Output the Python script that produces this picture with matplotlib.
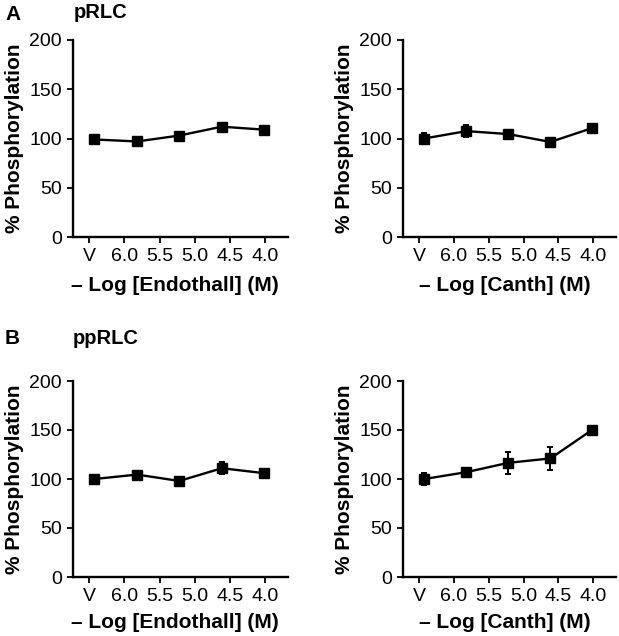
import matplotlib
matplotlib.use("Agg")
import matplotlib.pyplot as plt

plt.rcParams["font.family"] = ["Liberation Sans", "DejaVu Sans"]

# ------------------------------------------------------------------ data ----
TICK_LABELS = ["V", "6.0", "5.5", "5.0", "4.5", "4.0"]
# data points sit on their own evenly spaced positions (in tick units)
X_POS = [0.15, 1.36, 2.56, 3.77, 4.96]

prlc_endo = [99, 97, 103, 112, 109]
prlc_endo_err = [5, 4, 4, 4, 4]
prlc_canth = [100, 107.5, 104.5, 96.5, 110.5]
prlc_canth_err = [6, 6, 3, 3, 3]

pprlc_endo = [100, 104.5, 98, 111, 106]
pprlc_endo_err = [3, 3, 4, 6, 3]
pprlc_canth = [100, 107, 116.5, 121, 150]
pprlc_canth_err = [6, 3, 11, 12, 3]

XLABEL_ENDO = "\u2013 Log [Endothall] (M)"
XLABEL_CANTH = "\u2013 Log [Canth] (M)"

W, H = 619, 636


def px_axes(fig, x0, x1, ytop, ybot):
    return fig.add_axes([x0 / W, 1 - ybot / H, (x1 - x0) / W, (ybot - ytop) / H])


def draw_panel(ax, vals, errs, xlabel, label_xy):
    ax.errorbar(X_POS, vals, yerr=errs, color="black", marker="s",
                markersize=6.5, linewidth=1.7, elinewidth=1.4, capsize=2.5,
                capthick=1.4)
    ax.set_xlim(-0.46, 5.65)
    ax.set_ylim(0, 200)
    ax.set_yticks([0, 50, 100, 150, 200])
    ax.set_xticks(range(len(TICK_LABELS)))
    ax.set_xticklabels(TICK_LABELS)
    for s in ["top", "right"]:
        ax.spines[s].set_visible(False)
    for s in ["left", "bottom"]:
        ax.spines[s].set_linewidth(1.7)
    ax.tick_params(direction="out", length=4, width=1.3, labelsize=14, pad=4)
    ax.set_ylabel("% Phosphorylation", fontsize=15, fontweight="bold", labelpad=4)
    ax.set_xlabel(xlabel, fontsize=15, fontweight="bold", va="center")
    ax.xaxis.set_label_coords(*label_xy)


fig = plt.figure(figsize=(W / 100, H / 100), dpi=100)

ax1 = px_axes(fig, 73, 288, 40, 237)
draw_panel(ax1, prlc_endo, prlc_endo_err, XLABEL_ENDO, (0.474, -0.244))
ax2 = px_axes(fig, 403, 616, 40, 237)
draw_panel(ax2, prlc_canth, prlc_canth_err, XLABEL_CANTH, (0.478, -0.244))
ax3 = px_axes(fig, 73, 288, 381, 577)
draw_panel(ax3, pprlc_endo, pprlc_endo_err, XLABEL_ENDO, (0.474, -0.23))
ax4 = px_axes(fig, 403, 616, 381, 577)
draw_panel(ax4, pprlc_canth, pprlc_canth_err, XLABEL_CANTH, (0.478, -0.23))

fig.text(5 / W, 1 - 15 / H, "A", fontsize=15, fontweight="bold", va="center")
fig.text(74 / W, 1 - 13 / H, "pRLC", fontsize=14.5, fontweight="bold", va="center")
fig.text(5 / W, 1 - 338 / H, "B", fontsize=15, fontweight="bold", va="center")
fig.text(73 / W, 1 - 338 / H, "ppRLC", fontsize=14.5, fontweight="bold", va="center")

fig.savefig("out.png", dpi=100)
